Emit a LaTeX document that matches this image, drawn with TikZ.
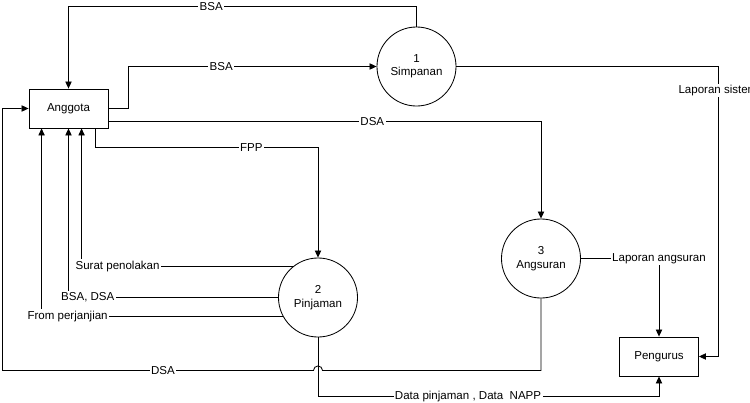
\documentclass[tikz,border=0pt]{standalone}
\usepackage{fontspec}
\setmainfont{Liberation Sans}
\usetikzlibrary{arrows.meta,calc}

\begin{document}
\begin{tikzpicture}[
x=0.025cm, y=-0.025cm,
line width=0.6pt,
>={Triangle[length=5pt,width=4.5pt]},
every node/.style={font=\fontsize{8.2}{9.5}\selectfont},
entity/.style={rectangle, draw, minimum width=1.975cm, minimum height=0.975cm},
process/.style={circle, draw, minimum size=1.975cm, inner sep=0pt, align=center},
lbl/.style={fill=white, inner sep=1pt},
]
\useasboundingbox (0,0) rectangle (750,402);
  \node[entity] (a) at (68.5,108.5) {Anggota};
  \node[process] (s1) at (416.5,66.5) {1\\Simpanan};
  \node[process] (p2) at (318,297.5) {2\\Pinjaman};
  \node[process] (s3) at (541,258.5) {3\\Angsuran};
  \node[entity] (pg) at (659,356.5) {Pengurus};

  \draw[->] (s1.north) -- ++(0,-20) -| node[lbl,pos=0.295] {BSA} (a.north);
  \draw[->] (a.east) -- ++(20,0) |- node[lbl,pos=0.687] {BSA} (s1.west);
  \draw[->] ($(a.south east)+(0,-7)$) -| node[lbl,pos=0.305] {DSA} (s3.north);
  \draw[->] ($(a.south east)+(-13,0)$) -- ++(0,19) -| node[lbl,pos=0.35] {FPP} (p2.north);
  \draw[->] (p2.128) -| node[lbl,pos=0.415] {Surat penolakan} ($(a.south west)+(53,0)$);
  \draw[->] (p2.west) -| node[lbl,pos=0.454] {BSA, DSA} (a.south);
  \draw[->] (p2.208) -| node[lbl,pos=0.446] {From perjanjian} ($(a.south west)+(13,0)$);
  \draw[->] (s3.south) |- ($(p2.south)+(4.5,33)$)
    arc[start angle=0,end angle=180,radius=0.1125cm]
    -| node[lbl,pos=0.242] {DSA} ($(a.west)+(-26,0)$) -- (a.west);
  \draw[->] (p2.south) -- ++(0,59) -| node[lbl,pos=0.22] {Data pinjaman , Data\ \ NAPP} (pg.south);
  \draw[->] (s3.east) -| node[lbl] {Laporan angsuran} (pg.north);
  \draw[->] (s1.east) -| node[lbl,pos=0.541] {Laporan sistem} ($(pg.east)+(19,0)$) -- (pg.east);
\end{tikzpicture}
\end{document}
